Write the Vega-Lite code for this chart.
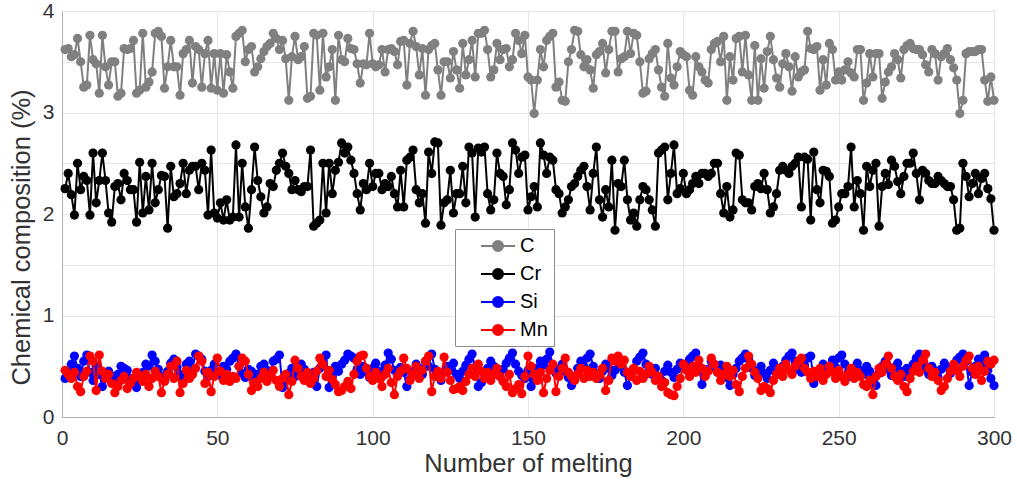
{
"$schema": "https://vega.github.io/schema/vega-lite/v6.json",
"width": 932, "height": 406,
"autosize": {"type": "none"},
"padding": {"left": 62, "top": 11, "right": 23, "bottom": 69},
"background": "white",
"config": {
 "font": "Liberation Sans",
 "view": {"stroke": "#b0b0b0", "strokeWidth": 1},
 "axis": {"domainColor": "#b0b0b0", "gridColor": "#e6e6e6", "tickColor": "#b0b0b0", "labelColor": "#333333", "titleColor": "#333333", "labelFontSize": 21, "titleFontSize": 25.5, "titleFontWeight": "normal"}
},
"datasets": {
"C": [{"x":1,"v":3.62},{"x":2,"v":3.63},{"x":3,"v":3.55},{"x":4,"v":3.57},{"x":5,"v":3.73},{"x":6,"v":3.5},{"x":7,"v":3.25},{"x":8,"v":3.27},{"x":9,"v":3.76},{"x":10,"v":3.52},
{"x":11,"v":3.48},{"x":12,"v":3.19},{"x":13,"v":3.76},{"x":14,"v":3.45},{"x":15,"v":3.27},{"x":16,"v":3.5},{"x":17,"v":3.5},{"x":18,"v":3.16},{"x":19,"v":3.19},{"x":20,"v":3.63},
{"x":21,"v":3.62},{"x":22,"v":3.63},{"x":23,"v":3.71},{"x":24,"v":3.19},{"x":25,"v":3.22},{"x":26,"v":3.78},{"x":27,"v":3.25},{"x":28,"v":3.3},{"x":29,"v":3.4},{"x":30,"v":3.78},
{"x":31,"v":3.8},{"x":32,"v":3.75},{"x":33,"v":3.24},{"x":34,"v":3.45},{"x":35,"v":3.71},{"x":36,"v":3.45},{"x":37,"v":3.45},{"x":38,"v":3.17},{"x":39,"v":3.58},{"x":40,"v":3.62},
{"x":41,"v":3.71},{"x":42,"v":3.29},{"x":43,"v":3.65},{"x":44,"v":3.62},{"x":45,"v":3.25},{"x":46,"v":3.58},{"x":47,"v":3.71},{"x":48,"v":3.24},{"x":49,"v":3.58},{"x":50,"v":3.22},
{"x":51,"v":3.58},{"x":52,"v":3.19},{"x":53,"v":3.57},{"x":54,"v":3.4},{"x":55,"v":3.24},{"x":56,"v":3.75},{"x":57,"v":3.78},{"x":58,"v":3.81},{"x":59,"v":3.5},{"x":60,"v":3.62},
{"x":61,"v":3.65},{"x":62,"v":3.4},{"x":63,"v":3.45},{"x":64,"v":3.53},{"x":65,"v":3.6},{"x":66,"v":3.65},{"x":67,"v":3.68},{"x":68,"v":3.78},{"x":69,"v":3.73},{"x":70,"v":3.62},
{"x":71,"v":3.71},{"x":72,"v":3.53},{"x":73,"v":3.12},{"x":74,"v":3.55},{"x":75,"v":3.75},{"x":76,"v":3.52},{"x":77,"v":3.55},{"x":78,"v":3.65},{"x":79,"v":3.14},{"x":80,"v":3.16},
{"x":81,"v":3.78},{"x":82,"v":3.76},{"x":83,"v":3.22},{"x":84,"v":3.78},{"x":85,"v":3.35},{"x":86,"v":3.45},{"x":87,"v":3.62},{"x":88,"v":3.12},{"x":89,"v":3.76},{"x":90,"v":3.52},
{"x":91,"v":3.5},{"x":92,"v":3.73},{"x":93,"v":3.63},{"x":94,"v":3.62},{"x":95,"v":3.48},{"x":96,"v":3.29},{"x":97,"v":3.48},{"x":98,"v":3.47},{"x":99,"v":3.78},{"x":100,"v":3.48},
{"x":101,"v":3.45},{"x":102,"v":3.47},{"x":103,"v":3.62},{"x":104,"v":3.4},{"x":105,"v":3.62},{"x":106,"v":3.63},{"x":107,"v":3.6},{"x":108,"v":3.47},{"x":109,"v":3.7},{"x":110,"v":3.71},
{"x":111,"v":3.27},{"x":112,"v":3.68},{"x":113,"v":3.8},{"x":114,"v":3.65},{"x":115,"v":3.37},{"x":116,"v":3.63},{"x":117,"v":3.17},{"x":118,"v":3.62},{"x":119,"v":3.66},{"x":120,"v":3.68},
{"x":121,"v":3.42},{"x":122,"v":3.17},{"x":123,"v":3.5},{"x":124,"v":3.5},{"x":125,"v":3.34},{"x":126,"v":3.6},{"x":127,"v":3.42},{"x":128,"v":3.24},{"x":129,"v":3.68},{"x":130,"v":3.37},
{"x":131,"v":3.52},{"x":132,"v":3.71},{"x":133,"v":3.35},{"x":134,"v":3.78},{"x":135,"v":3.78},{"x":136,"v":3.81},{"x":137,"v":3.62},{"x":138,"v":3.35},{"x":139,"v":3.42},{"x":140,"v":3.68},
{"x":141,"v":3.52},{"x":142,"v":3.62},{"x":143,"v":3.63},{"x":144,"v":3.45},{"x":145,"v":3.52},{"x":146,"v":3.78},{"x":147,"v":3.71},{"x":148,"v":3.58},{"x":149,"v":3.76},{"x":150,"v":3.35},
{"x":151,"v":3.32},{"x":152,"v":2.99},{"x":153,"v":3.32},{"x":154,"v":3.62},{"x":155,"v":3.45},{"x":156,"v":3.71},{"x":157,"v":3.75},{"x":158,"v":3.78},{"x":159,"v":3.25},{"x":160,"v":3.3},
{"x":161,"v":3.12},{"x":162,"v":3.11},{"x":163,"v":3.5},{"x":164,"v":3.62},{"x":165,"v":3.81},{"x":166,"v":3.8},{"x":167,"v":3.57},{"x":168,"v":3.45},{"x":169,"v":3.52},{"x":170,"v":3.42},
{"x":171,"v":3.24},{"x":172,"v":3.57},{"x":173,"v":3.6},{"x":174,"v":3.68},{"x":175,"v":3.39},{"x":176,"v":3.62},{"x":177,"v":3.8},{"x":178,"v":3.8},{"x":179,"v":3.4},{"x":180,"v":3.53},
{"x":181,"v":3.55},{"x":182,"v":3.8},{"x":183,"v":3.58},{"x":184,"v":3.78},{"x":185,"v":3.76},{"x":186,"v":3.5},{"x":187,"v":3.19},{"x":188,"v":3.21},{"x":189,"v":3.53},{"x":190,"v":3.58},
{"x":191,"v":3.62},{"x":192,"v":3.42},{"x":193,"v":3.25},{"x":194,"v":3.16},{"x":195,"v":3.68},{"x":196,"v":3.34},{"x":197,"v":3.27},{"x":198,"v":3.45},{"x":199,"v":3.6},{"x":200,"v":3.57},
{"x":201,"v":3.55},{"x":202,"v":3.22},{"x":203,"v":3.17},{"x":204,"v":3.55},{"x":205,"v":3.45},{"x":206,"v":3.4},{"x":207,"v":3.32},{"x":208,"v":3.29},{"x":209,"v":3.62},{"x":210,"v":3.68},
{"x":211,"v":3.7},{"x":212,"v":3.5},{"x":213,"v":3.75},{"x":214,"v":3.12},{"x":215,"v":3.55},{"x":216,"v":3.32},{"x":217,"v":3.73},{"x":218,"v":3.75},{"x":219,"v":3.4},{"x":220,"v":3.76},
{"x":221,"v":3.37},{"x":222,"v":3.12},{"x":223,"v":3.66},{"x":224,"v":3.12},{"x":225,"v":3.53},{"x":226,"v":3.24},{"x":227,"v":3.6},{"x":228,"v":3.75},{"x":229,"v":3.52},{"x":230,"v":3.34},
{"x":231,"v":3.25},{"x":232,"v":3.48},{"x":233,"v":3.58},{"x":234,"v":3.45},{"x":235,"v":3.21},{"x":236,"v":3.55},{"x":237,"v":3.35},{"x":238,"v":3.4},{"x":239,"v":3.42},{"x":240,"v":3.8},
{"x":241,"v":3.63},{"x":242,"v":3.62},{"x":243,"v":3.65},{"x":244,"v":3.22},{"x":245,"v":3.52},{"x":246,"v":3.27},{"x":247,"v":3.68},{"x":248,"v":3.62},{"x":249,"v":3.32},{"x":250,"v":3.4},
{"x":251,"v":3.32},{"x":252,"v":3.42},{"x":253,"v":3.5},{"x":254,"v":3.39},{"x":255,"v":3.35},{"x":256,"v":3.62},{"x":257,"v":3.62},{"x":258,"v":3.12},{"x":259,"v":3.29},{"x":260,"v":3.58},
{"x":261,"v":3.35},{"x":262,"v":3.58},{"x":263,"v":3.58},{"x":264,"v":3.14},{"x":265,"v":3.3},{"x":266,"v":3.4},{"x":267,"v":3.45},{"x":268,"v":3.58},{"x":269,"v":3.52},{"x":270,"v":3.34},
{"x":271,"v":3.62},{"x":272,"v":3.66},{"x":273,"v":3.68},{"x":274,"v":3.63},{"x":275,"v":3.62},{"x":276,"v":3.62},{"x":277,"v":3.57},{"x":278,"v":3.47},{"x":279,"v":3.4},{"x":280,"v":3.62},
{"x":281,"v":3.58},{"x":282,"v":3.32},{"x":283,"v":3.55},{"x":284,"v":3.58},{"x":285,"v":3.63},{"x":286,"v":3.52},{"x":287,"v":3.44},{"x":288,"v":3.32},{"x":289,"v":2.99},{"x":290,"v":3.12},
{"x":291,"v":3.58},{"x":292,"v":3.6},{"x":293,"v":3.6},{"x":294,"v":3.6},{"x":295,"v":3.62},{"x":296,"v":3.62},{"x":297,"v":3.32},{"x":298,"v":3.11},{"x":299,"v":3.35},{"x":300,"v":3.12}],
"Cr": [{"x":1,"v":2.25},{"x":2,"v":2.4},{"x":3,"v":2.19},{"x":4,"v":1.99},{"x":5,"v":2.5},{"x":6,"v":2.24},{"x":7,"v":2.37},{"x":8,"v":2.33},{"x":9,"v":1.99},{"x":10,"v":2.6},
{"x":11,"v":2.11},{"x":12,"v":2.33},{"x":13,"v":2.6},{"x":14,"v":2.33},{"x":15,"v":2.01},{"x":16,"v":1.92},{"x":17,"v":2.27},{"x":18,"v":2.3},{"x":19,"v":2.14},{"x":20,"v":2.4},
{"x":21,"v":2.33},{"x":22,"v":2.24},{"x":23,"v":2.24},{"x":24,"v":1.92},{"x":25,"v":2.51},{"x":26,"v":2.01},{"x":27,"v":2.37},{"x":28,"v":2.04},{"x":29,"v":2.5},{"x":30,"v":2.11},
{"x":31,"v":2.24},{"x":32,"v":2.38},{"x":33,"v":2.37},{"x":34,"v":1.86},{"x":35,"v":2.47},{"x":36,"v":2.17},{"x":37,"v":2.2},{"x":38,"v":2.3},{"x":39,"v":2.5},{"x":40,"v":2.2},
{"x":41,"v":2.43},{"x":42,"v":2.47},{"x":43,"v":2.47},{"x":44,"v":2.24},{"x":45,"v":2.5},{"x":46,"v":2.43},{"x":47,"v":1.99},{"x":48,"v":2.63},{"x":49,"v":2.01},{"x":50,"v":1.96},
{"x":51,"v":2.11},{"x":52,"v":1.94},{"x":53,"v":2.14},{"x":54,"v":1.94},{"x":55,"v":1.97},{"x":56,"v":2.68},{"x":57,"v":1.97},{"x":58,"v":2.5},{"x":59,"v":2.07},{"x":60,"v":1.86},
{"x":61,"v":2.24},{"x":62,"v":2.66},{"x":63,"v":2.33},{"x":64,"v":2.17},{"x":65,"v":2.01},{"x":66,"v":2.07},{"x":67,"v":2.3},{"x":68,"v":2.27},{"x":69,"v":2.43},{"x":70,"v":2.5},
{"x":71,"v":2.6},{"x":72,"v":2.47},{"x":73,"v":2.4},{"x":74,"v":2.24},{"x":75,"v":2.33},{"x":76,"v":2.24},{"x":77,"v":2.22},{"x":78,"v":2.27},{"x":79,"v":2.27},{"x":80,"v":2.63},
{"x":81,"v":1.88},{"x":82,"v":1.91},{"x":83,"v":1.94},{"x":84,"v":2.5},{"x":85,"v":2.01},{"x":86,"v":2.5},{"x":87,"v":2.2},{"x":88,"v":2.43},{"x":89,"v":2.51},{"x":90,"v":2.7},
{"x":91,"v":2.6},{"x":92,"v":2.66},{"x":93,"v":2.53},{"x":94,"v":2.4},{"x":95,"v":2.2},{"x":96,"v":2.04},{"x":97,"v":2.3},{"x":98,"v":2.24},{"x":99,"v":2.5},{"x":100,"v":2.27},
{"x":101,"v":2.4},{"x":102,"v":2.4},{"x":103,"v":2.24},{"x":104,"v":2.3},{"x":105,"v":2.27},{"x":106,"v":2.37},{"x":107,"v":2.2},{"x":108,"v":2.07},{"x":109,"v":2.43},{"x":110,"v":2.07},
{"x":111,"v":2.53},{"x":112,"v":2.56},{"x":113,"v":2.63},{"x":114,"v":2.24},{"x":115,"v":2.11},{"x":116,"v":2.2},{"x":117,"v":1.91},{"x":118,"v":2.61},{"x":119,"v":2.4},{"x":120,"v":2.71},
{"x":121,"v":2.7},{"x":122,"v":1.89},{"x":123,"v":2.11},{"x":124,"v":2.14},{"x":125,"v":2.43},{"x":126,"v":2.01},{"x":127,"v":2.2},{"x":128,"v":2.2},{"x":129,"v":2.47},{"x":130,"v":2.11},
{"x":131,"v":2.66},{"x":132,"v":2.6},{"x":133,"v":1.97},{"x":134,"v":2.65},{"x":135,"v":2.61},{"x":136,"v":2.66},{"x":137,"v":2.2},{"x":138,"v":2.04},{"x":139,"v":2.14},{"x":140,"v":2.6},
{"x":141,"v":2.4},{"x":142,"v":2.37},{"x":143,"v":2.09},{"x":144,"v":2.24},{"x":145,"v":2.7},{"x":146,"v":2.63},{"x":147,"v":2.4},{"x":148,"v":2.56},{"x":149,"v":2.58},{"x":150,"v":2.04},
{"x":151,"v":2.17},{"x":152,"v":2.27},{"x":153,"v":2.07},{"x":154,"v":2.7},{"x":155,"v":2.58},{"x":156,"v":2.4},{"x":157,"v":2.56},{"x":158,"v":2.53},{"x":159,"v":2.24},{"x":160,"v":2.2},
{"x":161,"v":2.01},{"x":162,"v":2.07},{"x":163,"v":2.14},{"x":164,"v":2.27},{"x":165,"v":2.3},{"x":166,"v":2.37},{"x":167,"v":2.43},{"x":168,"v":2.47},{"x":169,"v":2.27},{"x":170,"v":2.04},
{"x":171,"v":2.4},{"x":172,"v":2.66},{"x":173,"v":2.14},{"x":174,"v":1.97},{"x":175,"v":2.24},{"x":176,"v":2.07},{"x":177,"v":2.53},{"x":178,"v":1.84},{"x":179,"v":2.3},{"x":180,"v":2.27},
{"x":181,"v":2.53},{"x":182,"v":2.14},{"x":183,"v":1.94},{"x":184,"v":2.01},{"x":185,"v":1.88},{"x":186,"v":2.14},{"x":187,"v":2.27},{"x":188,"v":2.24},{"x":189,"v":2.14},{"x":190,"v":2.04},
{"x":191,"v":1.88},{"x":192,"v":2.6},{"x":193,"v":2.63},{"x":194,"v":2.66},{"x":195,"v":2.14},{"x":196,"v":2.4},{"x":197,"v":2.68},{"x":198,"v":2.2},{"x":199,"v":2.25},{"x":200,"v":2.4},
{"x":201,"v":2.2},{"x":202,"v":2.24},{"x":203,"v":2.3},{"x":204,"v":2.37},{"x":205,"v":2.3},{"x":206,"v":2.4},{"x":207,"v":2.4},{"x":208,"v":2.37},{"x":209,"v":2.4},{"x":210,"v":2.5},
{"x":211,"v":2.5},{"x":212,"v":2.2},{"x":213,"v":2.01},{"x":214,"v":2.27},{"x":215,"v":1.97},{"x":216,"v":2.04},{"x":217,"v":2.6},{"x":218,"v":2.58},{"x":219,"v":2.14},{"x":220,"v":2.11},
{"x":221,"v":2.11},{"x":222,"v":2.04},{"x":223,"v":2.27},{"x":224,"v":2.3},{"x":225,"v":2.25},{"x":226,"v":2.4},{"x":227,"v":2.24},{"x":228,"v":2.01},{"x":229,"v":2.07},{"x":230,"v":2.2},
{"x":231,"v":2.43},{"x":232,"v":2.47},{"x":233,"v":2.43},{"x":234,"v":2.4},{"x":235,"v":2.47},{"x":236,"v":2.5},{"x":237,"v":2.56},{"x":238,"v":2.07},{"x":239,"v":2.56},{"x":240,"v":2.54},
{"x":241,"v":1.94},{"x":242,"v":2.61},{"x":243,"v":2.24},{"x":244,"v":2.11},{"x":245,"v":2.43},{"x":246,"v":2.42},{"x":247,"v":2.37},{"x":248,"v":1.91},{"x":249,"v":1.94},{"x":250,"v":2.07},
{"x":251,"v":2.2},{"x":252,"v":2.2},{"x":253,"v":2.27},{"x":254,"v":2.66},{"x":255,"v":2.07},{"x":256,"v":2.33},{"x":257,"v":2.2},{"x":258,"v":1.84},{"x":259,"v":2.47},{"x":260,"v":2.27},
{"x":261,"v":2.43},{"x":262,"v":2.5},{"x":263,"v":1.88},{"x":264,"v":2.27},{"x":265,"v":2.4},{"x":266,"v":2.29},{"x":267,"v":2.53},{"x":268,"v":2.47},{"x":269,"v":2.32},{"x":270,"v":2.2},
{"x":271,"v":2.37},{"x":272,"v":2.5},{"x":273,"v":2.5},{"x":274,"v":2.6},{"x":275,"v":2.4},{"x":276,"v":2.14},{"x":277,"v":2.43},{"x":278,"v":2.4},{"x":279,"v":2.33},{"x":280,"v":2.3},
{"x":281,"v":2.3},{"x":282,"v":2.37},{"x":283,"v":2.33},{"x":284,"v":2.3},{"x":285,"v":2.27},{"x":286,"v":2.27},{"x":287,"v":2.14},{"x":288,"v":1.84},{"x":289,"v":1.86},{"x":290,"v":2.5},
{"x":291,"v":2.37},{"x":292,"v":2.17},{"x":293,"v":2.3},{"x":294,"v":2.4},{"x":295,"v":2.2},{"x":296,"v":2.35},{"x":297,"v":2.4},{"x":298,"v":2.25},{"x":299,"v":2.15},{"x":300,"v":1.84}],
"Si": [{"x":1,"v":0.38},{"x":2,"v":0.45},{"x":3,"v":0.52},{"x":4,"v":0.6},{"x":5,"v":0.48},{"x":6,"v":0.4},{"x":7,"v":0.55},{"x":8,"v":0.61},{"x":9,"v":0.44},{"x":10,"v":0.36},
{"x":11,"v":0.5},{"x":12,"v":0.42},{"x":13,"v":0.3},{"x":14,"v":0.38},{"x":15,"v":0.45},{"x":16,"v":0.4},{"x":17,"v":0.33},{"x":18,"v":0.42},{"x":19,"v":0.5},{"x":20,"v":0.48},
{"x":21,"v":0.46},{"x":22,"v":0.38},{"x":23,"v":0.35},{"x":24,"v":0.29},{"x":25,"v":0.4},{"x":26,"v":0.44},{"x":27,"v":0.52},{"x":28,"v":0.5},{"x":29,"v":0.61},{"x":30,"v":0.55},
{"x":31,"v":0.47},{"x":32,"v":0.4},{"x":33,"v":0.36},{"x":34,"v":0.45},{"x":35,"v":0.53},{"x":36,"v":0.57},{"x":37,"v":0.49},{"x":38,"v":0.42},{"x":39,"v":0.38},{"x":40,"v":0.52},
{"x":41,"v":0.55},{"x":42,"v":0.48},{"x":43,"v":0.62},{"x":44,"v":0.6},{"x":45,"v":0.57},{"x":46,"v":0.45},{"x":47,"v":0.4},{"x":48,"v":0.46},{"x":49,"v":0.52},{"x":50,"v":0.44},
{"x":51,"v":0.41},{"x":52,"v":0.5},{"x":53,"v":0.47},{"x":54,"v":0.55},{"x":55,"v":0.58},{"x":56,"v":0.62},{"x":57,"v":0.5},{"x":58,"v":0.43},{"x":59,"v":0.39},{"x":60,"v":0.47},
{"x":61,"v":0.45},{"x":62,"v":0.38},{"x":63,"v":0.42},{"x":64,"v":0.5},{"x":65,"v":0.52},{"x":66,"v":0.46},{"x":67,"v":0.44},{"x":68,"v":0.55},{"x":69,"v":0.57},{"x":70,"v":0.61},
{"x":71,"v":0.29},{"x":72,"v":0.36},{"x":73,"v":0.43},{"x":74,"v":0.48},{"x":75,"v":0.4},{"x":76,"v":0.45},{"x":77,"v":0.52},{"x":78,"v":0.47},{"x":79,"v":0.41},{"x":80,"v":0.36},
{"x":81,"v":0.44},{"x":82,"v":0.3},{"x":83,"v":0.48},{"x":84,"v":0.55},{"x":85,"v":0.61},{"x":86,"v":0.29},{"x":87,"v":0.4},{"x":88,"v":0.5},{"x":89,"v":0.45},{"x":90,"v":0.52},
{"x":91,"v":0.56},{"x":92,"v":0.62},{"x":93,"v":0.6},{"x":94,"v":0.58},{"x":95,"v":0.47},{"x":96,"v":0.42},{"x":97,"v":0.5},{"x":98,"v":0.44},{"x":99,"v":0.39},{"x":100,"v":0.48},
{"x":101,"v":0.53},{"x":102,"v":0.45},{"x":103,"v":0.4},{"x":104,"v":0.51},{"x":105,"v":0.63},{"x":106,"v":0.57},{"x":107,"v":0.46},{"x":108,"v":0.41},{"x":109,"v":0.49},{"x":110,"v":0.44},
{"x":111,"v":0.3},{"x":112,"v":0.37},{"x":113,"v":0.45},{"x":114,"v":0.52},{"x":115,"v":0.48},{"x":116,"v":0.42},{"x":117,"v":0.55},{"x":118,"v":0.5},{"x":119,"v":0.62},{"x":120,"v":0.47},
{"x":121,"v":0.4},{"x":122,"v":0.36},{"x":123,"v":0.44},{"x":124,"v":0.5},{"x":125,"v":0.46},{"x":126,"v":0.53},{"x":127,"v":0.42},{"x":128,"v":0.38},{"x":129,"v":0.45},{"x":130,"v":0.51},
{"x":131,"v":0.57},{"x":132,"v":0.62},{"x":133,"v":0.49},{"x":134,"v":0.3},{"x":135,"v":0.34},{"x":136,"v":0.42},{"x":137,"v":0.48},{"x":138,"v":0.55},{"x":139,"v":0.5},{"x":140,"v":0.44},
{"x":141,"v":0.4},{"x":142,"v":0.47},{"x":143,"v":0.53},{"x":144,"v":0.58},{"x":145,"v":0.63},{"x":146,"v":0.52},{"x":147,"v":0.45},{"x":148,"v":0.41},{"x":149,"v":0.38},{"x":150,"v":0.46},
{"x":151,"v":0.3},{"x":152,"v":0.37},{"x":153,"v":0.48},{"x":154,"v":0.55},{"x":155,"v":0.51},{"x":156,"v":0.57},{"x":157,"v":0.64},{"x":158,"v":0.5},{"x":159,"v":0.43},{"x":160,"v":0.47},
{"x":161,"v":0.52},{"x":162,"v":0.45},{"x":163,"v":0.39},{"x":164,"v":0.31},{"x":165,"v":0.4},{"x":166,"v":0.48},{"x":167,"v":0.55},{"x":168,"v":0.5},{"x":169,"v":0.58},{"x":170,"v":0.62},
{"x":171,"v":0.5},{"x":172,"v":0.43},{"x":173,"v":0.38},{"x":174,"v":0.45},{"x":175,"v":0.52},{"x":176,"v":0.48},{"x":177,"v":0.41},{"x":178,"v":0.46},{"x":179,"v":0.54},{"x":180,"v":0.5},
{"x":181,"v":0.44},{"x":182,"v":0.31},{"x":183,"v":0.4},{"x":184,"v":0.47},{"x":185,"v":0.55},{"x":186,"v":0.59},{"x":187,"v":0.63},{"x":188,"v":0.52},{"x":189,"v":0.46},{"x":190,"v":0.42},
{"x":191,"v":0.48},{"x":192,"v":0.4},{"x":193,"v":0.36},{"x":194,"v":0.45},{"x":195,"v":0.51},{"x":196,"v":0.44},{"x":197,"v":0.39},{"x":198,"v":0.47},{"x":199,"v":0.53},{"x":200,"v":0.49},
{"x":201,"v":0.52},{"x":202,"v":0.57},{"x":203,"v":0.6},{"x":204,"v":0.63},{"x":205,"v":0.5},{"x":206,"v":0.32},{"x":207,"v":0.41},{"x":208,"v":0.47},{"x":209,"v":0.55},{"x":210,"v":0.49},
{"x":211,"v":0.44},{"x":212,"v":0.51},{"x":213,"v":0.46},{"x":214,"v":0.39},{"x":215,"v":0.31},{"x":216,"v":0.42},{"x":217,"v":0.48},{"x":218,"v":0.55},{"x":219,"v":0.58},{"x":220,"v":0.62},
{"x":221,"v":0.57},{"x":222,"v":0.48},{"x":223,"v":0.41},{"x":224,"v":0.45},{"x":225,"v":0.5},{"x":226,"v":0.43},{"x":227,"v":0.38},{"x":228,"v":0.46},{"x":229,"v":0.53},{"x":230,"v":0.47},
{"x":231,"v":0.42},{"x":232,"v":0.5},{"x":233,"v":0.56},{"x":234,"v":0.6},{"x":235,"v":0.63},{"x":236,"v":0.55},{"x":237,"v":0.47},{"x":238,"v":0.44},{"x":239,"v":0.51},{"x":240,"v":0.58},
{"x":241,"v":0.6},{"x":242,"v":0.33},{"x":243,"v":0.4},{"x":244,"v":0.47},{"x":245,"v":0.52},{"x":246,"v":0.45},{"x":247,"v":0.5},{"x":248,"v":0.56},{"x":249,"v":0.49},{"x":250,"v":0.58},
{"x":251,"v":0.61},{"x":252,"v":0.52},{"x":253,"v":0.44},{"x":254,"v":0.4},{"x":255,"v":0.48},{"x":256,"v":0.53},{"x":257,"v":0.46},{"x":258,"v":0.42},{"x":259,"v":0.5},{"x":260,"v":0.45},
{"x":261,"v":0.38},{"x":262,"v":0.31},{"x":263,"v":0.43},{"x":264,"v":0.5},{"x":265,"v":0.55},{"x":266,"v":0.47},{"x":267,"v":0.41},{"x":268,"v":0.49},{"x":269,"v":0.53},{"x":270,"v":0.45},
{"x":271,"v":0.4},{"x":272,"v":0.48},{"x":273,"v":0.44},{"x":274,"v":0.52},{"x":275,"v":0.58},{"x":276,"v":0.62},{"x":277,"v":0.54},{"x":278,"v":0.47},{"x":279,"v":0.42},{"x":280,"v":0.5},
{"x":281,"v":0.45},{"x":282,"v":0.39},{"x":283,"v":0.47},{"x":284,"v":0.53},{"x":285,"v":0.49},{"x":286,"v":0.43},{"x":287,"v":0.51},{"x":288,"v":0.56},{"x":289,"v":0.59},{"x":290,"v":0.62},
{"x":291,"v":0.55},{"x":292,"v":0.31},{"x":293,"v":0.44},{"x":294,"v":0.5},{"x":295,"v":0.57},{"x":296,"v":0.52},{"x":297,"v":0.61},{"x":298,"v":0.46},{"x":299,"v":0.38},{"x":300,"v":0.31}],
"Mn": [{"x":1,"v":0.46},{"x":2,"v":0.42},{"x":3,"v":0.38},{"x":4,"v":0.44},{"x":5,"v":0.3},{"x":6,"v":0.25},{"x":7,"v":0.4},{"x":8,"v":0.45},{"x":9,"v":0.6},{"x":10,"v":0.55},
{"x":11,"v":0.26},{"x":12,"v":0.61},{"x":13,"v":0.45},{"x":14,"v":0.38},{"x":15,"v":0.42},{"x":16,"v":0.33},{"x":17,"v":0.24},{"x":18,"v":0.3},{"x":19,"v":0.36},{"x":20,"v":0.4},
{"x":21,"v":0.28},{"x":22,"v":0.33},{"x":23,"v":0.38},{"x":24,"v":0.44},{"x":25,"v":0.4},{"x":26,"v":0.35},{"x":27,"v":0.42},{"x":28,"v":0.3},{"x":29,"v":0.38},{"x":30,"v":0.45},
{"x":31,"v":0.4},{"x":32,"v":0.24},{"x":33,"v":0.35},{"x":34,"v":0.42},{"x":35,"v":0.5},{"x":36,"v":0.38},{"x":37,"v":0.55},{"x":38,"v":0.24},{"x":39,"v":0.33},{"x":40,"v":0.46},
{"x":41,"v":0.38},{"x":42,"v":0.42},{"x":43,"v":0.48},{"x":44,"v":0.6},{"x":45,"v":0.55},{"x":46,"v":0.33},{"x":47,"v":0.44},{"x":48,"v":0.25},{"x":49,"v":0.4},{"x":50,"v":0.58},
{"x":51,"v":0.45},{"x":52,"v":0.36},{"x":53,"v":0.42},{"x":54,"v":0.35},{"x":55,"v":0.4},{"x":56,"v":0.38},{"x":57,"v":0.5},{"x":58,"v":0.58},{"x":59,"v":0.55},{"x":60,"v":0.42},
{"x":61,"v":0.26},{"x":62,"v":0.34},{"x":63,"v":0.3},{"x":64,"v":0.38},{"x":65,"v":0.44},{"x":66,"v":0.35},{"x":67,"v":0.4},{"x":68,"v":0.46},{"x":69,"v":0.36},{"x":70,"v":0.3},
{"x":71,"v":0.38},{"x":72,"v":0.42},{"x":73,"v":0.22},{"x":74,"v":0.35},{"x":75,"v":0.56},{"x":76,"v":0.48},{"x":77,"v":0.4},{"x":78,"v":0.36},{"x":79,"v":0.44},{"x":80,"v":0.33},
{"x":81,"v":0.38},{"x":82,"v":0.45},{"x":83,"v":0.58},{"x":84,"v":0.52},{"x":85,"v":0.4},{"x":86,"v":0.46},{"x":87,"v":0.37},{"x":88,"v":0.32},{"x":89,"v":0.25},{"x":90,"v":0.26},
{"x":91,"v":0.3},{"x":92,"v":0.35},{"x":93,"v":0.28},{"x":94,"v":0.42},{"x":95,"v":0.55},{"x":96,"v":0.6},{"x":97,"v":0.61},{"x":98,"v":0.48},{"x":99,"v":0.4},{"x":100,"v":0.36},
{"x":101,"v":0.44},{"x":102,"v":0.38},{"x":103,"v":0.3},{"x":104,"v":0.42},{"x":105,"v":0.48},{"x":106,"v":0.34},{"x":107,"v":0.22},{"x":108,"v":0.4},{"x":109,"v":0.45},{"x":110,"v":0.58},
{"x":111,"v":0.48},{"x":112,"v":0.36},{"x":113,"v":0.42},{"x":114,"v":0.5},{"x":115,"v":0.38},{"x":116,"v":0.46},{"x":117,"v":0.55},{"x":118,"v":0.6},{"x":119,"v":0.25},{"x":120,"v":0.4},
{"x":121,"v":0.45},{"x":122,"v":0.38},{"x":123,"v":0.59},{"x":124,"v":0.44},{"x":125,"v":0.36},{"x":126,"v":0.27},{"x":127,"v":0.28},{"x":128,"v":0.3},{"x":129,"v":0.26},{"x":130,"v":0.35},
{"x":131,"v":0.42},{"x":132,"v":0.48},{"x":133,"v":0.4},{"x":134,"v":0.52},{"x":135,"v":0.45},{"x":136,"v":0.38},{"x":137,"v":0.44},{"x":138,"v":0.36},{"x":139,"v":0.42},{"x":140,"v":0.48},
{"x":141,"v":0.4},{"x":142,"v":0.35},{"x":143,"v":0.3},{"x":144,"v":0.42},{"x":145,"v":0.24},{"x":146,"v":0.28},{"x":147,"v":0.32},{"x":148,"v":0.23},{"x":149,"v":0.4},{"x":150,"v":0.6},
{"x":151,"v":0.5},{"x":152,"v":0.42},{"x":153,"v":0.36},{"x":154,"v":0.44},{"x":155,"v":0.24},{"x":156,"v":0.38},{"x":157,"v":0.46},{"x":158,"v":0.52},{"x":159,"v":0.25},{"x":160,"v":0.4},
{"x":161,"v":0.48},{"x":162,"v":0.58},{"x":163,"v":0.44},{"x":164,"v":0.4},{"x":165,"v":0.36},{"x":166,"v":0.42},{"x":167,"v":0.48},{"x":168,"v":0.38},{"x":169,"v":0.46},{"x":170,"v":0.4},
{"x":171,"v":0.44},{"x":172,"v":0.38},{"x":173,"v":0.42},{"x":174,"v":0.48},{"x":175,"v":0.26},{"x":176,"v":0.36},{"x":177,"v":0.58},{"x":178,"v":0.55},{"x":179,"v":0.6},{"x":180,"v":0.52},
{"x":181,"v":0.56},{"x":182,"v":0.44},{"x":183,"v":0.4},{"x":184,"v":0.48},{"x":185,"v":0.36},{"x":186,"v":0.45},{"x":187,"v":0.38},{"x":188,"v":0.42},{"x":189,"v":0.5},{"x":190,"v":0.44},
{"x":191,"v":0.36},{"x":192,"v":0.4},{"x":193,"v":0.3},{"x":194,"v":0.34},{"x":195,"v":0.24},{"x":196,"v":0.22},{"x":197,"v":0.21},{"x":198,"v":0.3},{"x":199,"v":0.38},{"x":200,"v":0.52},
{"x":201,"v":0.46},{"x":202,"v":0.4},{"x":203,"v":0.5},{"x":204,"v":0.44},{"x":205,"v":0.56},{"x":206,"v":0.48},{"x":207,"v":0.4},{"x":208,"v":0.45},{"x":209,"v":0.58},{"x":210,"v":0.52},
{"x":211,"v":0.44},{"x":212,"v":0.36},{"x":213,"v":0.42},{"x":214,"v":0.5},{"x":215,"v":0.4},{"x":216,"v":0.46},{"x":217,"v":0.32},{"x":218,"v":0.25},{"x":219,"v":0.4},{"x":220,"v":0.48},
{"x":221,"v":0.6},{"x":222,"v":0.52},{"x":223,"v":0.44},{"x":224,"v":0.38},{"x":225,"v":0.26},{"x":226,"v":0.3},{"x":227,"v":0.28},{"x":228,"v":0.24},{"x":229,"v":0.36},{"x":230,"v":0.42},
{"x":231,"v":0.48},{"x":232,"v":0.4},{"x":233,"v":0.52},{"x":234,"v":0.46},{"x":235,"v":0.42},{"x":236,"v":0.5},{"x":237,"v":0.55},{"x":238,"v":0.58},{"x":239,"v":0.48},{"x":240,"v":0.44},
{"x":241,"v":0.38},{"x":242,"v":0.45},{"x":243,"v":0.4},{"x":244,"v":0.48},{"x":245,"v":0.36},{"x":246,"v":0.42},{"x":247,"v":0.5},{"x":248,"v":0.44},{"x":249,"v":0.38},{"x":250,"v":0.46},
{"x":251,"v":0.4},{"x":252,"v":0.35},{"x":253,"v":0.42},{"x":254,"v":0.48},{"x":255,"v":0.38},{"x":256,"v":0.44},{"x":257,"v":0.4},{"x":258,"v":0.32},{"x":259,"v":0.3},{"x":260,"v":0.36},
{"x":261,"v":0.22},{"x":262,"v":0.4},{"x":263,"v":0.48},{"x":264,"v":0.44},{"x":265,"v":0.52},{"x":266,"v":0.6},{"x":267,"v":0.48},{"x":268,"v":0.4},{"x":269,"v":0.36},{"x":270,"v":0.42},
{"x":271,"v":0.3},{"x":272,"v":0.25},{"x":273,"v":0.38},{"x":274,"v":0.45},{"x":275,"v":0.5},{"x":276,"v":0.44},{"x":277,"v":0.56},{"x":278,"v":0.62},{"x":279,"v":0.48},{"x":280,"v":0.4},
{"x":281,"v":0.44},{"x":282,"v":0.36},{"x":283,"v":0.26},{"x":284,"v":0.3},{"x":285,"v":0.38},{"x":286,"v":0.45},{"x":287,"v":0.52},{"x":288,"v":0.46},{"x":289,"v":0.4},{"x":290,"v":0.5},
{"x":291,"v":0.56},{"x":292,"v":0.6},{"x":293,"v":0.48},{"x":294,"v":0.42},{"x":295,"v":0.5},{"x":296,"v":0.36},{"x":297,"v":0.45},{"x":298,"v":0.55},{"x":299,"v":0.52},{"x":300,"v":0.56}]
},
"encoding": {
 "x": {"field": "x", "type": "quantitative", "scale": {"domain": [0, 300], "nice": false},
       "axis": {"values": [0,50,100,150,200,250,300], "grid": true, "ticks": false, "labelFlush": false, "labelPadding": 10, "title": "Number of melting", "titlePadding": 3}},
 "y": {"field": "v", "type": "quantitative", "scale": {"domain": [0, 4], "nice": false},
       "axis": {"values": [0,0.5,1,1.5,2,2.5,3,3.5,4], "labelExpr": "datum.value % 1 == 0 ? format(datum.value, 'd') : ''", "grid": true, "ticks": false, "labelPadding": 8, "title": "Chemical composition (%)", "titlePadding": 8, "titleY": 226}}
},
"layer": [
 {"data": {"name": "C"},
  "mark": {"type": "line", "strokeWidth": 2, "point": {"filled": true, "size": 85}},
  "encoding": {
   "color": {"datum": "C", "type": "nominal",
     "scale": {"domain": ["C", "Cr", "Si", "Mn"], "range": ["#808080", "#000000", "#0000ff", "#ff0000"]},
     "legend": {"orient": "none", "legendX": 393, "legendY": 218, "title": "\u2003\u2002", "titleOrient": "right", "titlePadding": 0, "titleFontSize": 20, "fillColor": "white", "strokeColor": "#8c8c8c", "padding": 6,
       "labelFontSize": 20, "labelColor": "#000000", "labelOffset": 11, "symbolOffset": 26, "rowPadding": 7,
       "symbolType": "M-1.7,0L1.7,0M0.5,0A0.5,0.5,0,1,1,-0.5,0A0.5,0.5,0,1,1,0.5,0Z", "symbolSize": 400, "symbolStrokeWidth": 2,
       "encode": {"symbols": {"update": {"fill": {"scale": "color", "field": "value"}, "stroke": {"scale": "color", "field": "value"}}}}}}
  }},
 {"data": {"name": "Cr"},
  "mark": {"type": "line", "strokeWidth": 2, "point": {"filled": true, "size": 85}},
  "encoding": {"color": {"datum": "Cr", "type": "nominal"}}},
 {"data": {"name": "Si"},
  "mark": {"type": "line", "strokeWidth": 2, "point": {"filled": true, "size": 85}},
  "encoding": {"color": {"datum": "Si", "type": "nominal"}}},
 {"data": {"name": "Mn"},
  "mark": {"type": "line", "strokeWidth": 2, "point": {"filled": true, "size": 85}},
  "encoding": {"color": {"datum": "Mn", "type": "nominal"}}}
]
}
